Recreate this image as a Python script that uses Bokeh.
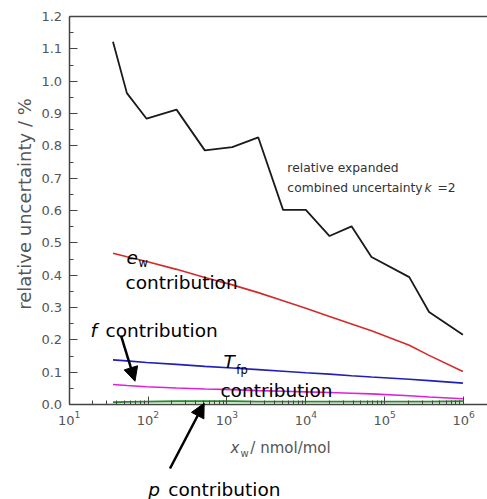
import math
from bokeh.plotting import figure
from bokeh.models import (FixedTicker, Label, Arrow, NormalHead, Range1d,
                          PrintfTickFormatter, LogAxis)
from bokeh.embed import file_html
from bokeh.resources import INLINE

# ---- data ----
xw = [36, 54, 96, 230, 525, 1170, 2500, 5150, 10000, 20000, 38000, 68000,
      205000, 365000, 980000]
total_k2 = [1.122, 0.963, 0.884, 0.912, 0.786, 0.796, 0.826, 0.602, 0.602,
            0.521, 0.551, 0.456, 0.394, 0.286, 0.216]
ew_contrib = [0.468, 0.457, 0.442, 0.418, 0.393, 0.370, 0.346, 0.321, 0.298,
              0.272, 0.249, 0.228, 0.183, 0.152, 0.102]
tfp_contrib = [0.138, 0.135, 0.130, 0.124, 0.118, 0.113, 0.108, 0.103, 0.098,
               0.094, 0.089, 0.085, 0.078, 0.074, 0.066]
f_contrib = [0.062, 0.059, 0.055, 0.051, 0.048, 0.046, 0.043, 0.041, 0.039,
             0.037, 0.035, 0.033, 0.027, 0.023, 0.018]
p_contrib = [0.007, 0.008, 0.009, 0.010, 0.010, 0.010, 0.009, 0.009, 0.009,
             0.009, 0.009, 0.009, 0.009, 0.009, 0.010]
y_ticks = [round(0.1 * i, 1) for i in range(13)]
y_minor = [round(0.05 * i, 2) for i in range(25)]

FONT = "DejaVu Sans"
GREY = "#555555"
AX = "#444444"

X_MIN, X_MAX = 10, 10 ** 6.303      # drawn extent of the x axis
Y_MIN, Y_MAX = 0.0, 1.2             # drawn extent of the y axis

p = figure(width=487, height=499, x_axis_type="log",
           x_range=Range1d(10 ** 0.1305, X_MAX),
           y_range=Range1d(-0.2938, 1.2495),
           output_backend="svg", toolbar_location=None,
           min_border_left=0, min_border_right=0, min_border_top=0,
           min_border_bottom=0)
p.grid.visible = False
p.outline_line_color = None
p.background_fill_color = "white"

# axes styling
p.xaxis.fixed_location = Y_MIN
p.xaxis.bounds = (X_MIN, X_MAX)
p.yaxis.fixed_location = X_MIN
p.yaxis.bounds = (Y_MIN, Y_MAX)
p.yaxis.ticker = FixedTicker(ticks=y_ticks, minor_ticks=y_minor)
p.yaxis.formatter = PrintfTickFormatter(format="%.1f")
for ax in (p.xaxis[0], p.yaxis[0]):
    ax.major_tick_out = 0
    ax.major_tick_in = 8
    ax.minor_tick_out = 0
    ax.minor_tick_in = 4
    ax.axis_line_color = AX
    ax.axis_line_width = 1.5
    ax.major_tick_line_color = AX
    ax.minor_tick_line_color = AX
    ax.major_label_text_font = FONT
    ax.major_label_text_font_size = "13px"
    ax.major_label_text_color = GREY
p.yaxis.major_label_standoff = 7
p.xaxis.major_label_standoff = 6

# top frame line (an axis with no ticks)
top = LogAxis(fixed_location=Y_MAX, bounds=(X_MIN, X_MAX),
              ticker=FixedTicker(ticks=[], minor_ticks=[]),
              axis_line_color=AX, axis_line_width=1.5,
              major_tick_in=0, major_tick_out=0, minor_tick_in=0,
              minor_tick_out=0)
p.add_layout(top, "above")

# lines
p.line(xw, total_k2, line_color="#1a1a1a", line_width=1.8)
p.line(xw, ew_contrib, line_color="#d42a2a", line_width=1.6)
p.line(xw, tfp_contrib, line_color="#2020b8", line_width=1.6)
p.line(xw, f_contrib, line_color="#e020d8", line_width=1.6)
p.line(xw, p_contrib, line_color="#2a8a2a", line_width=1.8)


def lab(x, y, text, size="18.5px", style="normal", color="black", angle=0.0,
        align="left"):
    p.add_layout(Label(x=x, y=y, text=text, text_font=FONT,
                       text_font_size=size, text_font_style=style,
                       text_color=color, text_align=align, angle=angle,
                       text_baseline="alphabetic"))


# y axis title
lab(2.72, 0.62, "relative uncertainty / %", size="18px", color=GREY,
    angle=math.pi / 2, align="center")

# annotations
lab(5840, 0.730, "relative expanded", size="12.3px", color="#333333")
lab(5840, 0.671, "combined uncertainty", size="12.3px", color="#333333")
lab(319000, 0.671, "k", size="12.3px", style="italic", color="#333333")
lab(467000, 0.671, "=2", size="12.3px", color="#333333")

lab(53.5, 0.455, "e", style="italic")
lab(75.8, 0.438, "w", size="11.5px")
lab(51.9, 0.377, "contribution")

lab(18.7, 0.229, "f", style="italic")
lab(29.0, 0.229, "contribution")

lab(903, 0.133, "T", style="italic")
lab(1318, 0.108, "fp", size="11.5px")
lab(828, 0.043, "contribution")

lab(101, -0.263, "p", style="italic")
lab(181, -0.263, "contribution")

# x axis title
lab(1107, -0.133, "x", size="15px", style="italic", color=GREY)
lab(1482, -0.152, "w", size="10px", color=GREY)
lab(1983, -0.133, "/ nmol/mol", size="15px", color=GREY)

p.add_layout(Arrow(x_start=45.5, y_start=0.213, x_end=68.4, y_end=0.072,
                   line_width=2.5, line_color="black",
                   end=NormalHead(size=14, fill_color="black",
                                  line_color="black")))
p.add_layout(Arrow(x_start=190, y_start=-0.198, x_end=515, y_end=0.004,
                   line_width=2.5, line_color="black",
                   end=NormalHead(size=14, fill_color="black",
                                  line_color="black")))

open("out.html", "w").write(file_html(p, INLINE))
